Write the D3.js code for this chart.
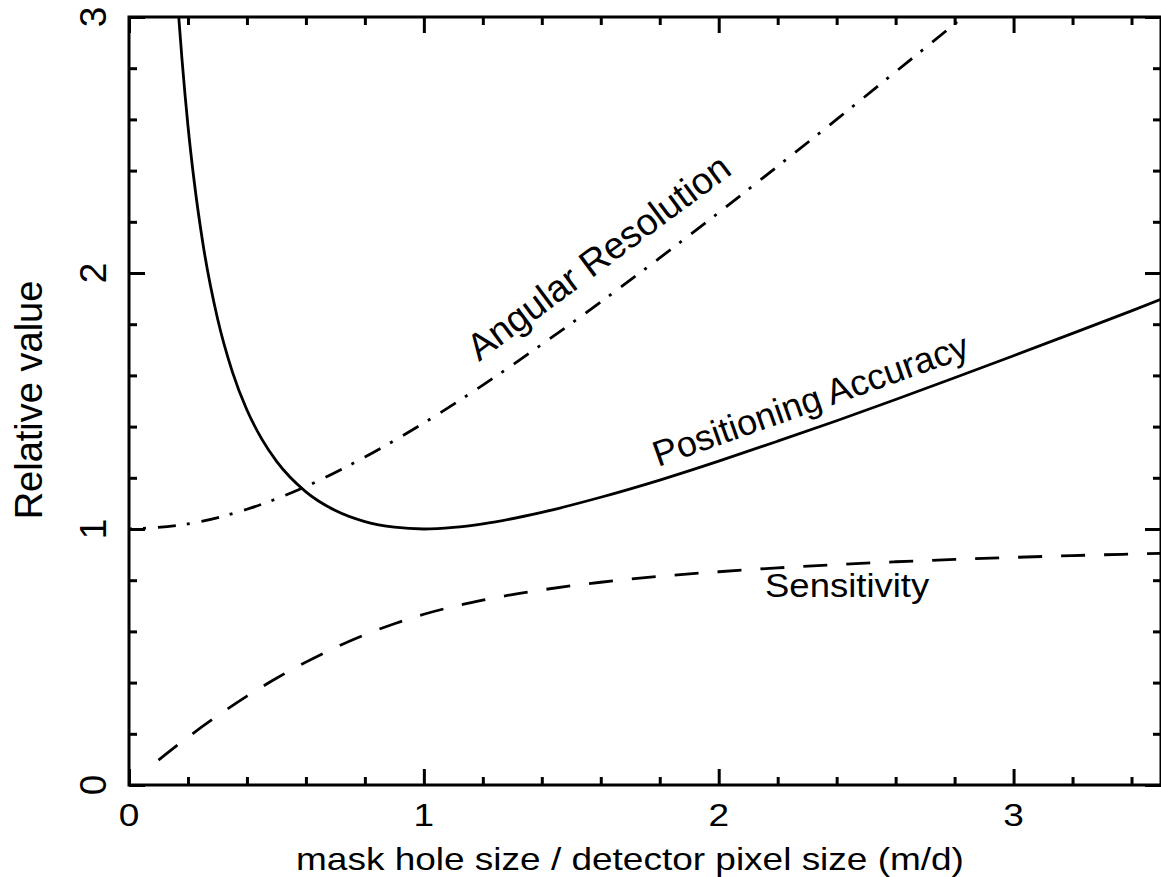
<!DOCTYPE html>
<html><head><meta charset="utf-8">
<script src="https://cdn.jsdelivr.net/npm/d3@7"></script>
<style>
html,body{margin:0;padding:0;background:#fff;}
svg{display:block;}
text{font-family:"Liberation Sans",Arial,Helvetica,sans-serif;fill:#000;}
</style>
</head><body>
<svg id="c" width="1161" height="877"></svg>
<script>
// ---- data ----
const sensitivityR = [0.1,0.2,0.3,0.4,0.5,0.6,0.7,0.8,0.9,1.0,1.1,1.2,1.3,1.4,1.5,1.6,1.8,2.0,2.2,2.4,2.6,2.8,3.0,3.2,3.5];
const sensitivity  = [0.097,0.187,0.270,0.347,0.417,0.480,0.537,0.587,0.630,0.667,0.697,0.722,0.744,0.762,0.778,0.792,0.815,0.833,0.848,0.861,0.872,0.881,0.889,0.896,0.905];

const angularR = [0,0.2,0.4,0.6,0.8,1.0,1.2,1.4,1.6,1.8,2.0,2.2,2.4,2.6,2.8,2.9];
const angular  = [1.000,1.020,1.077,1.166,1.281,1.414,1.562,1.721,1.887,2.059,2.236,2.417,2.600,2.786,2.973,3.068];

const positioningR = [0.165,0.17,0.18,0.2,0.22,0.25,0.3,0.35,0.4,0.45,0.5,0.6,0.7,0.8,0.9,1.0,1.1,1.2,1.4,1.6,1.8,2.0,2.2,2.4,2.6,2.8,3.0,3.2,3.4,3.5];
const positioning  = [3.06,2.98,2.831,2.575,2.368,2.120,1.823,1.616,1.465,1.352,1.265,1.145,1.072,1.029,1.007,1.000,1.006,1.020,1.065,1.124,1.191,1.265,1.343,1.423,1.506,1.591,1.677,1.764,1.852,1.897];

const xMajorTicks = [0,1,2,3];
const xMinorTicks = [0.2,0.4,0.6,0.8,1.2,1.4,1.6,1.8,2.2,2.4,2.6,2.8,3.2,3.4];
const yMajorTicks = [0,1,2,3];
const yMinorTicks = [0.2,0.4,0.6,0.8,1.2,1.4,1.6,1.8,2.2,2.4,2.6,2.8];
const xTickLabels = ["0","1","2","3"];
const yTickLabels = ["0","1","2","3"];

const xTitle = "mask hole size / detector pixel size (m/d)";
const yTitle = "Relative value";
const curveLabels = ["Angular Resolution","Positioning Accuracy","Sensitivity"];

// ---- drawing ----
const svg = d3.select("#c");
const L=129, T=17, R=1161, B=785;
const x = d3.scaleLinear().domain([0,3.5]).range([L,R]);
const y = d3.scaleLinear().domain([0,3]).range([B,T]);

svg.append("defs").append("clipPath").attr("id","plotclip")
  .append("rect").attr("x",L).attr("y",T).attr("width",R-L).attr("height",B-T);

function styleAxis(g){
  g.select(".domain").remove();
  g.selectAll(".tick line").attr("stroke","#000").attr("stroke-width",3);
  g.selectAll(".tick text").remove();
}
[[xMajorTicks,16],[xMinorTicks,8]].forEach(([tv,len])=>{
  svg.append("g").attr("transform",`translate(0,${B})`)
    .call(d3.axisBottom(x).tickValues(tv).tickSizeInner(-len).tickSizeOuter(0).tickFormat("")).call(styleAxis);
  svg.append("g").attr("transform",`translate(0,${T})`)
    .call(d3.axisTop(x).tickValues(tv).tickSizeInner(-len).tickSizeOuter(0).tickFormat("")).call(styleAxis);
});
[[yMajorTicks,16],[yMinorTicks,8]].forEach(([tv,len])=>{
  svg.append("g").attr("transform",`translate(${L},0)`)
    .call(d3.axisLeft(y).tickValues(tv).tickSizeInner(-len).tickSizeOuter(0).tickFormat("")).call(styleAxis);
  svg.append("g").attr("transform",`translate(${R},0)`)
    .call(d3.axisRight(y).tickValues(tv).tickSizeInner(-len).tickSizeOuter(0).tickFormat("")).call(styleAxis);
});

svg.append("rect").attr("x",L).attr("y",T).attr("width",R-L).attr("height",B-T)
  .attr("fill","none").attr("stroke","#000").attr("stroke-width",3);

svg.append("g").selectAll("text").data(xMajorTicks).join("text")
  .attr("transform",(d)=>`translate(${x(d)},826) scale(1,0.87)`)
  .attr("text-anchor","middle").attr("font-size",37)
  .text((d,i)=>xTickLabels[i]);
svg.append("g").selectAll("text").data(yMajorTicks).join("text")
  .attr("transform",(d)=>`translate(106,${y(d)}) rotate(-90)`)
  .attr("text-anchor","middle").attr("font-size",37)
  .text((d,i)=>yTickLabels[i]);

svg.append("text").attr("transform","translate(630,870) scale(1,0.87)")
  .attr("text-anchor","middle").attr("font-size",37).text(xTitle);
svg.append("text").attr("transform","translate(42,400) rotate(-90)")
  .attr("text-anchor","middle").attr("font-size",38).text(yTitle);

const line = d3.line().x(d=>x(d[0])).y(d=>y(d[1])).curve(d3.curveMonotoneX);
const plot = svg.append("g").attr("clip-path","url(#plotclip)");
plot.append("path").datum(d3.zip(angularR,angular)).attr("d",line)
  .attr("fill","none").attr("stroke","#000").attr("stroke-width",2.8)
  .attr("stroke-dasharray","18,11,3,12").attr("stroke-dashoffset",15);
plot.append("path").datum(d3.zip(positioningR,positioning)).attr("d",line)
  .attr("fill","none").attr("stroke","#000").attr("stroke-width",2.8);
plot.append("path").datum(d3.zip(sensitivityR,sensitivity)).attr("d",line)
  .attr("fill","none").attr("stroke","#000").attr("stroke-width",2.8)
  .attr("stroke-dasharray","24,19");

svg.append("text").attr("transform","translate(479,362) rotate(-36.6)")
  .attr("font-size",37.5).text(curveLabels[0]);
svg.append("text").attr("transform","translate(658,467) rotate(-19.5)")
  .attr("font-size",36).text(curveLabels[1]);
svg.append("text").attr("transform","translate(765,597) scale(1,0.93)")
  .attr("font-size",36.5).text(curveLabels[2]);
</script>
</body></html>
